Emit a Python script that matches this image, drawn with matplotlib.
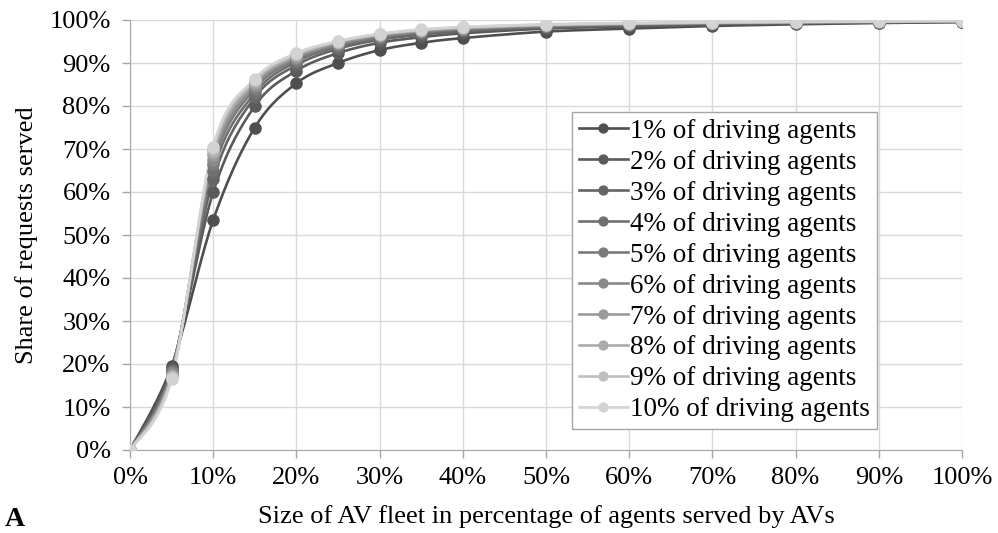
import numpy as np
import matplotlib
matplotlib.use('Agg')
import matplotlib.pyplot as plt
from matplotlib.ticker import PercentFormatter

# Anteil der AV-Flotte (x) und bediente Anfragen (y) je Szenario
fleet = [0, 5, 10, 15, 20, 25, 30, 35, 40, 50, 60, 70, 80, 90, 100]
labels = [f"{i}% of driving agents" for i in range(1, 11)]

served = [
    [0, 19.5, 53.5, 75.0, 85.3, 90.0, 93.0, 94.7, 95.8, 97.3, 98.0, 98.6, 99.0, 99.3, 99.5],
    [0, 19.0, 60.0, 80.0, 88.2, 92.3, 94.7, 96.0, 96.9, 98.0, 98.5, 98.9, 99.2, 99.4, 99.6],
    [0, 18.7, 63.0, 82.0, 89.5, 93.3, 95.4, 96.6, 97.4, 98.3, 98.8, 99.1, 99.3, 99.5, 99.6],
    [0, 18.4, 65.0, 83.0, 90.3, 93.8, 95.8, 97.0, 97.7, 98.5, 98.9, 99.2, 99.4, 99.5, 99.7],
    [0, 18.1, 66.5, 84.0, 90.8, 94.2, 96.1, 97.2, 97.9, 98.6, 99.0, 99.3, 99.4, 99.6, 99.7],
    [0, 17.8, 67.5, 84.7, 91.2, 94.5, 96.3, 97.4, 98.0, 98.7, 99.1, 99.3, 99.5, 99.6, 99.7],
    [0, 17.5, 68.5, 85.2, 91.5, 94.7, 96.5, 97.5, 98.1, 98.8, 99.1, 99.4, 99.5, 99.6, 99.8],
    [0, 17.2, 69.3, 85.6, 91.8, 94.9, 96.6, 97.6, 98.2, 98.9, 99.2, 99.4, 99.5, 99.7, 99.8],
    [0, 16.9, 70.0, 86.0, 92.0, 95.0, 96.7, 97.7, 98.3, 98.9, 99.2, 99.4, 99.6, 99.7, 99.8],
    [0, 16.5, 70.5, 86.3, 92.3, 95.1, 96.8, 97.8, 98.4, 99.0, 99.3, 99.5, 99.6, 99.7, 99.8],
]

greys = ["#4f4f4f", "#5a5a5a", "#656565", "#707070", "#7b7b7b",
         "#8a8a8a", "#9a9a9a", "#ababab", "#bfbfbf", "#d3d3d3"]


def smooth(x, y, n=20):
    # Excel-artige Glaettung (Catmull-Rom / Bezier)
    x = np.asarray(x, float)
    y = np.asarray(y, float)
    px = np.concatenate([[x[0]], x, [x[-1]]])
    py = np.concatenate([[y[0]], y, [y[-1]]])
    xs, ys = [], []
    t = np.linspace(0, 1, n)
    for i in range(1, len(px) - 2):
        p0 = np.array([px[i], py[i]])
        p3 = np.array([px[i + 1], py[i + 1]])
        c1 = p0 + (np.array([px[i + 1], py[i + 1]]) - np.array([px[i - 1], py[i - 1]])) / 6
        c2 = p3 - (np.array([px[i + 2], py[i + 2]]) - np.array([px[i], py[i]])) / 6
        b = ((1 - t) ** 3)[:, None] * p0 + (3 * (1 - t) ** 2 * t)[:, None] * c1 \
            + (3 * (1 - t) * t ** 2)[:, None] * c2 + (t ** 3)[:, None] * p3
        xs.extend(b[:, 0])
        ys.extend(b[:, 1])
    return xs, ys


plt.rcParams['font.family'] = ['Liberation Serif', 'DejaVu Serif']
fs = 19

fig = plt.figure(figsize=(9.98, 5.33), dpi=100)
ax = fig.add_axes([130 / 998, 83 / 533, 832 / 998, 430 / 533])

for vals, lab, col in zip(served, labels, greys):
    sx, sy = smooth(fleet, vals)
    ax.plot(sx, sy, color=col, lw=1.9, zorder=3)
    ax.plot(fleet, vals, 'o', color=col, ms=8, zorder=4)
    ax.plot([], [], '-o', color=col, lw=1.9, ms=8, label=lab)

ax.set_xlim(0, 100)
ax.set_ylim(0, 100)
ax.set_xticks(range(0, 101, 10))
ax.set_yticks(range(0, 101, 10))
ax.xaxis.set_major_formatter(PercentFormatter(decimals=0))
ax.yaxis.set_major_formatter(PercentFormatter(decimals=0))
ax.grid(True, color="#d9d9d9", lw=1.0, zorder=0)
ax.set_axisbelow(True)
for s in ['top', 'right']:
    ax.spines[s].set_visible(False)
for s in ['left', 'bottom']:
    ax.spines[s].set_color("#a6a6a6")
ax.tick_params(labelsize=fs, length=6, color="#a6a6a6", width=1.0)
ax.tick_params(axis='y', pad=8)
ax.tick_params(axis='x', pad=6)

ax.set_xlabel("Size of AV fleet in percentage of agents served by AVs", fontsize=fs, labelpad=12)
ax.set_ylabel("Share of requests served", fontsize=fs, labelpad=8)

leg = ax.legend(loc='upper left', bbox_to_anchor=(572 / 998, 1 - 112 / 533),
                bbox_transform=fig.transFigure, fontsize=19.5, fancybox=False,
                framealpha=1, edgecolor="#a6a6a6", handlelength=1.8,
                handletextpad=0.1, labelspacing=0.22, borderaxespad=0,
                borderpad=0.25, markerscale=0.8)
leg.get_frame().set_linewidth(1.0)
leg.set_zorder(5)

fig.text(5 / 998, 1 / 533, "A", fontsize=20, fontweight='bold', ha='left', va='bottom')

fig.savefig("out.png", dpi=100)
